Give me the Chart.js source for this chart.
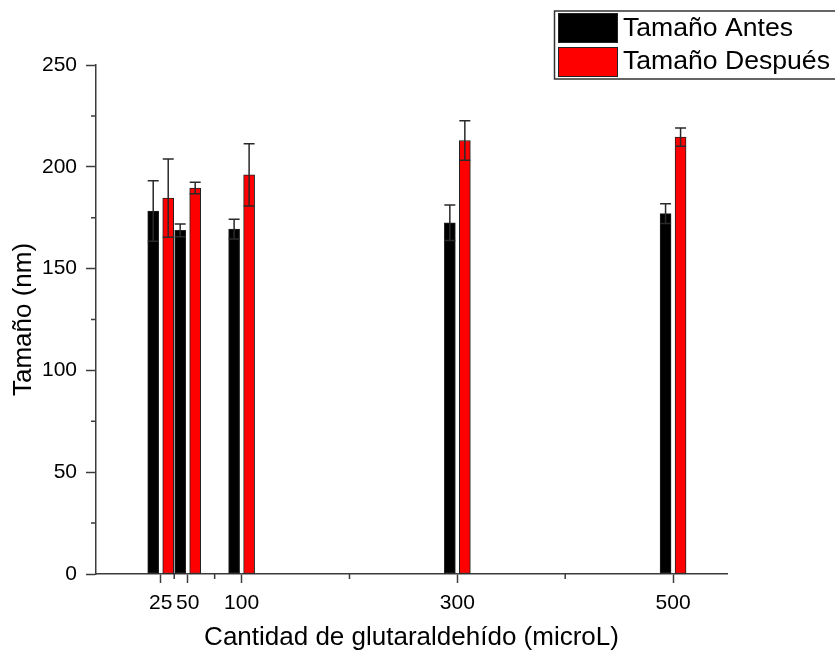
<!DOCTYPE html>
<html>
<head>
<meta charset="utf-8">
<script src="https://cdn.jsdelivr.net/npm/chart.js@4.4.0/dist/chart.umd.min.js"></script>
<style>
  html, body { margin: 0; padding: 0; background: #fff; }
</style>
</head>
<body>
<canvas id="sizeChart" width="835" height="653"></canvas>
<script>
// Datos
const dosis = [25, 50, 100, 300, 500];
const tamanoAntes = [178.3, 168.8, 169.4, 172.5, 177];
const errorAntes = [14.9, 3.1, 4.9, 8.7, 4.9];
const tamanoDespues = [184.6, 189.6, 196, 212.9, 214.6];
const errorDespues = [19.2, 2.8, 15.3, 9.7, 4.5];
const xMinor = [37.5, 75, 200, 400];
const yMinor = [25, 75, 125, 175, 225];

const FONT = 'Liberation Sans, Arial, sans-serif';
const AXIS = '#3c3c3c';

// Barras de error (linea vertical con tapas)
const errorBars = {
    id: 'errorBars',
    afterDatasetsDraw(chart) {
        const ctx = chart.ctx;
        const y = chart.scales.y;
        ctx.save();
        ctx.strokeStyle = '#2a2a2a';
        ctx.lineWidth = 1.5;
        chart.data.datasets.forEach((ds, di) => {
            const meta = chart.getDatasetMeta(di);
            meta.data.forEach((bar, i) => {
                const v = ds.data[i].y;
                const e = ds.errores[i];
                const top = y.getPixelForValue(v + e);
                const bot = y.getPixelForValue(v - e);
                const half = bar.width / 2;
                ctx.beginPath();
                ctx.moveTo(bar.x, top);
                ctx.lineTo(bar.x, bot);
                ctx.moveTo(bar.x - half, top);
                ctx.lineTo(bar.x + half, top);
                ctx.moveTo(bar.x - half, bot);
                ctx.lineTo(bar.x + half, bot);
                ctx.stroke();
            });
        });
        ctx.restore();
    }
};

// Marcas menores y leyenda con recuadro
const extras = {
    id: 'extras',
    afterDraw(chart) {
        const ctx = chart.ctx;
        const xs = chart.scales.x;
        const ys = chart.scales.y;
        const area = chart.chartArea;
        ctx.save();
        ctx.strokeStyle = AXIS;
        ctx.lineWidth = 1.5;
        ctx.beginPath();
        xMinor.forEach(v => {
            const px = xs.getPixelForValue(v);
            ctx.moveTo(px, area.bottom);
            ctx.lineTo(px, area.bottom + 5);
        });
        yMinor.forEach(v => {
            const py = ys.getPixelForValue(v);
            ctx.moveTo(area.left - 5, py);
            ctx.lineTo(area.left, py);
        });
        ctx.stroke();

        // leyenda
        ctx.strokeStyle = '#333';
        ctx.lineWidth = 1.5;
        ctx.strokeRect(554.5, 11, 320, 68);
        ctx.font = '26.6px ' + FONT;
        ctx.textBaseline = 'alphabetic';
        ctx.textAlign = 'left';
        chart.data.datasets.forEach((ds, i) => {
            const top = 13.5 + i * 34;
            ctx.fillStyle = ds.backgroundColor;
            ctx.fillRect(558.5, top, 59, 29);
            ctx.lineWidth = 1;
            ctx.strokeStyle = '#222';
            ctx.strokeRect(558.5, top, 59, 29);
            ctx.fillStyle = '#000';
            ctx.fillText(ds.label, 623, 36 + i * 33);
        });
        ctx.restore();
    }
};

new Chart(document.getElementById('sizeChart'), {
    type: 'bar',
    data: {
        datasets: [{
            label: 'Tamaño Antes',
            data: dosis.map((d, i) => ({ x: d, y: tamanoAntes[i] })),
            errores: errorAntes,
            backgroundColor: '#000000',
            borderColor: '#222',
            borderWidth: 1,
            borderSkipped: false
        }, {
            label: 'Tamaño Después',
            data: dosis.map((d, i) => ({ x: d, y: tamanoDespues[i] })),
            errores: errorDespues,
            backgroundColor: '#ff0000',
            borderColor: '#222',
            borderWidth: 1,
            borderSkipped: false
        }]
    },
    options: {
        responsive: false,
        animation: false,
        barThickness: 15,
        maxBarThickness: 11,
        layout: { padding: { top: 65, right: 108, left: 0, bottom: 0 } },
        plugins: {
            legend: { display: false },
            tooltip: { enabled: false }
        },
        scales: {
            x: {
                type: 'linear',
                position: 'bottom',
                min: -35,
                max: 550,
                offset: false,
                grid: {
                    offset: false,
                    drawOnChartArea: false,
                    drawTicks: true,
                    tickLength: 9,
                    tickColor: AXIS,
                    tickWidth: 1.5
                },
                border: { color: AXIS, width: 1.5 },
                afterBuildTicks: scale => {
                    scale.ticks = dosis.map(v => ({ value: v }));
                },
                afterFit: scale => { scale.height = 79; },
                ticks: {
                    autoSkip: false,
                    maxRotation: 0,
                    padding: 8,
                    color: '#000',
                    font: { family: FONT, size: 21 }
                },
                title: {
                    display: true,
                    text: 'Cantidad de glutaraldehído (microL)',
                    color: '#000',
                    font: { family: FONT, size: 26 },
                    padding: { top: 0, bottom: 0 }
                }
            },
            y: {
                min: 0,
                max: 250,
                grid: {
                    drawOnChartArea: false,
                    drawTicks: true,
                    tickLength: 10,
                    tickColor: AXIS,
                    tickWidth: 1.5
                },
                border: { color: AXIS, width: 1.5 },
                afterFit: scale => { scale.width = 96; },
                ticks: {
                    stepSize: 50,
                    padding: 9,
                    color: '#000',
                    font: { family: FONT, size: 21 }
                },
                title: {
                    display: true,
                    text: 'Tamaño (nm)',
                    color: '#000',
                    font: { family: FONT, size: 26 },
                    padding: { top: 8, bottom: 0 }
                }
            }
        }
    },
    plugins: [errorBars, extras]
});
</script>
</body>
</html>
